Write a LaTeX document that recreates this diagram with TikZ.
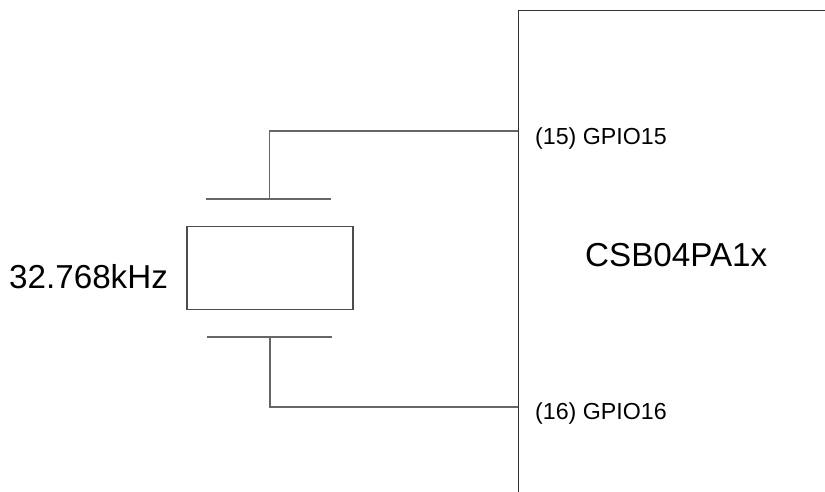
\documentclass[tikz,border=0pt]{standalone}
\usepackage{fontspec}
\setmainfont{Liberation Sans}
\begin{document}
\begin{tikzpicture}[x=1pt,y=-1pt,
 wire/.style={draw=black!60,line width=1.6pt},
 lbl/.style={inner sep=0pt,anchor=west,text=black}]
\useasboundingbox (0,0) rectangle (825,492);
\fill[white] (0,0) rectangle (825,492);
\draw[black!80,line width=1.5pt] (518.5,492) -- (518.5,10.5) -- (825,10.5);
\node[draw=black!70,line width=1.4pt,minimum width=166pt,minimum height=83pt,inner sep=0pt,outer sep=0pt,anchor=north west] (xtal) at (187,226.5) {};
\coordinate (ptop) at (269.5,199);
\coordinate (pbot) at (270,337);
\coordinate (ptopL) at (206,199);
\coordinate (ptopR) at (331,199);
\coordinate (pbotL) at (207,337);
\coordinate (pbotR) at (332,337);
\coordinate (g15) at (518,131);
\coordinate (g16) at (518,407);
\draw[wire] (ptopL) -- (ptopR);
\draw[wire] (pbotL) -- (pbotR);
\draw[wire] (ptop) -- (269.5,131) -- (g15);
\draw[wire] (pbot) -- (270,407) -- (g16);
\node[lbl,font=\fontsize{23.2pt}{27pt}\selectfont] (gp15) at (535,138) {(15) GPIO15};
\node[lbl,font=\fontsize{23.2pt}{27pt}\selectfont] (gp16) at (535,413.5) {(16) GPIO16};
\node[lbl,font=\fontsize{33.2pt}{38pt}\selectfont] (chip) at (585,255) {CSB04PA1x};
\node[lbl,font=\fontsize{33.2pt}{38pt}\selectfont] (freq) at (9,277) {32.768kHz};
\end{tikzpicture}
\end{document}
